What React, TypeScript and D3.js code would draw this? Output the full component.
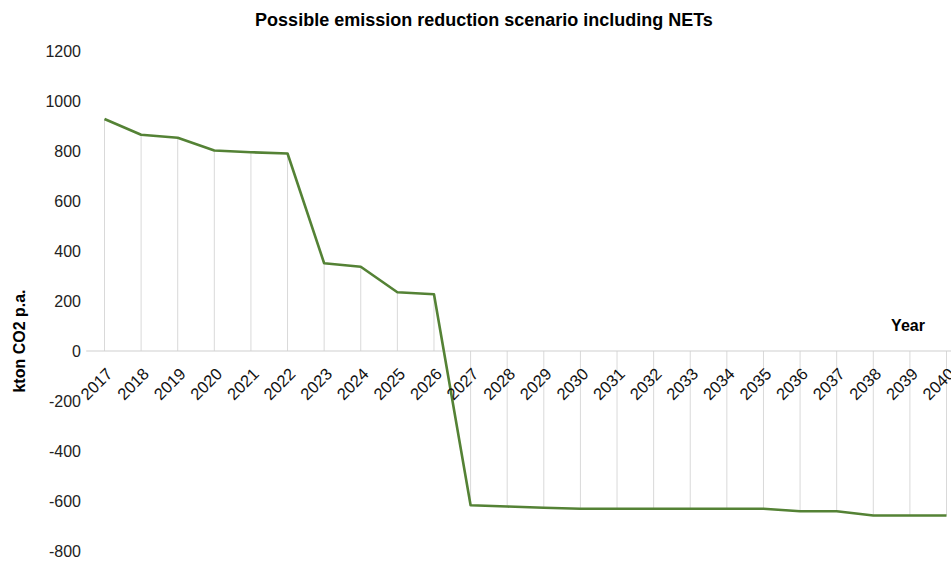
import React from "react";
import * as d3 from "d3";

const years = [
  "2017","2018","2019","2020","2021","2022","2023","2024","2025","2026","2027","2028",
  "2029","2030","2031","2032","2033","2034","2035","2036","2037","2038","2039","2040",
];
const emissions = [
  928, 865, 853, 802, 795, 790, 351, 337, 235, 227, -617, -622,
  -627, -631, -631, -631, -631, -631, -631, -641, -641, -658, -658, -658,
];
const yTicks = [1200, 1000, 800, 600, 400, 200, 0, -200, -400, -600, -800];

const W = 951;
const H = 562;

export default function App() {
  const x = d3.scalePoint<string>().domain(years).range([104.5, 946.5]);
  const step = x.step();
  const y = d3.scaleLinear().domain([-800, 1200]).range([551, 51]);
  const line = d3
    .line<number>()
    .x((_, i) => x(years[i]) as number)
    .y((d) => y(d));
  const font = "Arial, 'Liberation Sans', sans-serif";
  return (
    <div style={{ position: "absolute", left: 0, top: 0 }}>
      <svg width={W} height={H} style={{ display: "block", background: "#fff" }} fontFamily={font}>
        <text x={484} y={26} textAnchor="middle" fontSize={18} fontWeight="bold" fill="#000">
          Possible emission reduction scenario including NETs
        </text>
        {yTicks.map((t) => (
          <text key={t} x={81} y={y(t)} dy="0.35em" textAnchor="end" fontSize={16} fill="#222">
            {t}
          </text>
        ))}
        <text
          transform={`translate(25,341) rotate(-90)`}
          textAnchor="middle"
          fontSize={16}
          fontWeight="bold"
          fill="#000"
        >
          kton CO2 p.a.
        </text>
        {years.map((yr, i) => (
          <line
            key={"g" + yr}
            x1={x(yr)}
            x2={x(yr)}
            y1={y(0)}
            y2={y(emissions[i])}
            stroke="#d9d9d9"
            strokeWidth={1}
          />
        ))}
        <line
          x1={(x(years[0]) as number) - step / 2}
          x2={W}
          y1={y(0)}
          y2={y(0)}
          stroke="#d0d0d0"
          strokeWidth={1.2}
        />
        <path d={line(emissions) || ""} fill="none" stroke="#548235" strokeWidth={2.6} strokeLinejoin="round" />
        {years.map((yr) => (
          <text
            key={"l" + yr}
            transform={`translate(${(x(yr) as number) + 9},${y(0) + 24}) rotate(-45)`}
            textAnchor="end"
            fontSize={16.5}
            fill="#111"
          >
            {yr}
          </text>
        ))}
        <text x={908} y={331} textAnchor="middle" fontSize={16} fontWeight="bold" fill="#000">
          Year
        </text>
      </svg>
    </div>
  );
}
